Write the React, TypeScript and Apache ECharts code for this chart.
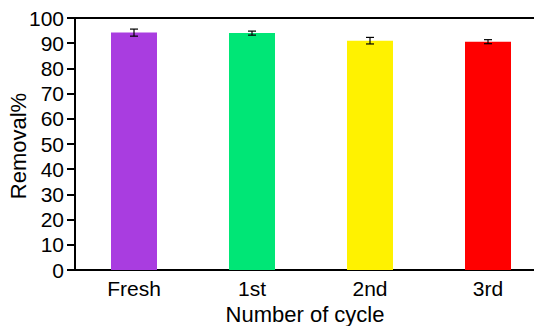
import React, { useEffect, useRef } from "react";
import * as echarts from "echarts";

const categories = ["Fresh", "1st", "2nd", "3rd"];
const removal = [94.2, 94.0, 91.0, 90.6];
const errors = [1.4, 0.8, 1.3, 0.8];
const barColors = ["#A93DE0", "#00E676", "#FFF200", "#FF0000"];
const yTicks = [0, 10, 20, 30, 40, 50, 60, 70, 80, 90, 100];

const FONT = "'Liberation Sans', Arial, sans-serif";

export default function App() {
  const ref = useRef<HTMLDivElement>(null);

  useEffect(() => {
    if (!ref.current) return;
    const chart = echarts.init(ref.current, undefined, { renderer: "svg" });

    const errorData = removal.map((v, i) => [i, v - errors[i], v + errors[i]]);

    chart.setOption({
      animation: false,
      backgroundColor: "#ffffff",
      grid: {
        left: 75,
        top: 18,
        width: 472,
        height: 252,
        containLabel: false,
        outerBoundsMode: "none",
      },
      xAxis: [
        {
          type: "category",
          data: categories,
          axisLine: { lineStyle: { color: "#000", width: 2 } },
          axisTick: { show: false },
          axisLabel: {
            color: "#000",
            fontSize: 21,
            fontFamily: FONT,
            margin: 8,
          },
        },
        {
          type: "category",
          data: categories,
          position: "top",
          axisLine: { lineStyle: { color: "#000", width: 2 } },
          axisTick: { show: false },
          axisLabel: { show: false },
        },
      ],
      yAxis: {
        type: "value",
        min: yTicks[0],
        max: yTicks[yTicks.length - 1],
        interval: 10,
        splitLine: { show: false },
        axisLine: { show: true, lineStyle: { color: "#000", width: 2 } },
        axisTick: { show: true, length: 8, lineStyle: { color: "#000", width: 2 } },
        axisLabel: {
          color: "#000",
          fontSize: 21,
          fontFamily: FONT,
          margin: 11,
        },
      },
      graphic: [
        {
          type: "text",
          x: 18,
          y: 146,
          rotation: Math.PI / 2,
          style: {
            text: "Removal%",
            fill: "#000",
            font: `22px ${FONT}`,
            align: "center",
            verticalAlign: "middle",
          },
        },
        {
          type: "text",
          x: 305,
          y: 314,
          style: {
            text: "Number of cycle",
            fill: "#000",
            font: `22px ${FONT}`,
            align: "center",
            verticalAlign: "middle",
          },
        },
      ],
      series: [
        {
          type: "bar",
          data: removal.map((v, i) => ({ value: v, itemStyle: { color: barColors[i] } })),
          barWidth: 46,
        },
        {
          type: "custom",
          data: errorData,
          z: 10,
          renderItem: (params: any, api: any) => {
            const x = api.value(0);
            const lo = api.coord([x, api.value(1)]);
            const hi = api.coord([x, api.value(2)]);
            const half = 4;
            const style = { stroke: "#000", lineWidth: 1.2 };
            return {
              type: "group",
              children: [
                { type: "line", shape: { x1: lo[0], y1: lo[1], x2: hi[0], y2: hi[1] }, style },
                { type: "line", shape: { x1: hi[0] - half, y1: hi[1], x2: hi[0] + half, y2: hi[1] }, style },
                { type: "line", shape: { x1: lo[0] - half, y1: lo[1], x2: lo[0] + half, y2: lo[1] }, style },
              ],
            };
          },
        },
      ],
    });

    return () => chart.dispose();
  }, []);

  return (
    <div
      ref={ref}
      style={{ position: "fixed", left: 0, top: 0, width: 560, height: 326 }}
    />
  );
}
